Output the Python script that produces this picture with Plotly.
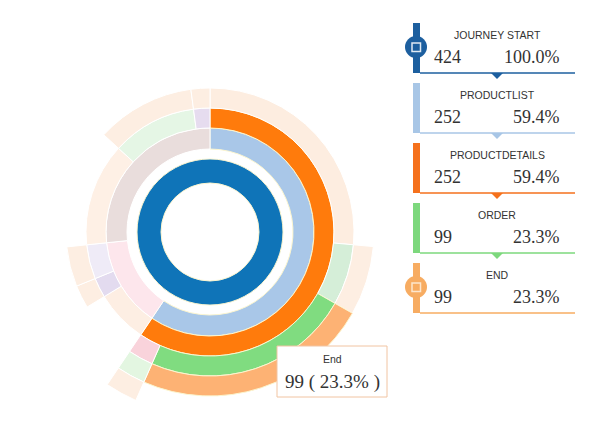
import plotly.graph_objects as go

# journey tree: every page visit is a node, children listed clockwise
node_ids = [
    "js",
    "js/pl", "js/cart", "js/home",
    "js/pl/pd",
    "js/cart/end", "js/cart/search", "js/cart/account",
    "js/home/end", "js/home/order", "js/home/search",
    "js/pl/pd/end", "js/pl/pd/wish", "js/pl/pd/order", "js/pl/pd/cart",
    "js/cart/search/end", "js/cart/account/end",
    "js/home/order/end", "js/home/search/end",
    "js/pl/pd/wish/end", "js/pl/pd/order/end", "js/pl/pd/cart/order",
    "js/pl/pd/cart/order/end",
]
node_labels = [
    "Journey Start",
    "ProductList", "Cart", "Home",
    "ProductDetails",
    "End", "Search", "Account",
    "End", "Order", "Search",
    "End", "Wishlist", "Order", "Cart",
    "End", "End",
    "End", "End",
    "End", "End", "Order",
    "End",
]
node_parents = [
    "",
    "js", "js", "js",
    "js/pl",
    "js/cart", "js/cart", "js/cart",
    "js/home", "js/home", "js/home",
    "js/pl/pd", "js/pl/pd", "js/pl/pd", "js/pl/pd",
    "js/cart/search", "js/cart/account",
    "js/home/order", "js/home/search",
    "js/pl/pd/wish", "js/pl/pd/order", "js/pl/pd/cart",
    "js/pl/pd/cart/order",
]
node_values = [
    424,
    252, 59, 113,
    252,
    29, 11, 19,
    57, 47, 9,
    112, 29, 99, 12,
    11, 19,
    47, 9,
    29, 99, 12,
    12,
]

# selected path shown in the side panel
path_ids = ["js", "js/pl", "js/pl/pd", "js/pl/pd/order", "js/pl/pd/order/end"]
selected = "js/pl/pd/order/end"

# colours: full colour on the selected path, faded elsewhere
seg_colors = {
    "js": "#0f74b8",
    "js/pl": "#a9c7e8",
    "js/cart": "#fde6ec",
    "js/home": "#e9dddc",
    "js/pl/pd": "#ff7b0c",
    "js/cart/end": "#fdeee3",
    "js/cart/search": "#e3dbef",
    "js/cart/account": "#efebf7",
    "js/home/end": "#fef0e5",
    "js/home/order": "#e5f6e5",
    "js/home/search": "#e6dcef",
    "js/pl/pd/end": "#fdede0",
    "js/pl/pd/wish": "#d5eed8",
    "js/pl/pd/order": "#80dc80",
    "js/pl/pd/cart": "#f9d3db",
    "js/pl/pd/order/end": "#fdb274",
    "js/pl/pd/cart/order": "#e3f6e1",
}
faded_end = "#fdeee2"
panel_colors = ["#1d5f9f", "#a8c6e6", "#f5711c", "#7dd87d", "#f7ac62"]

# ring radii in px (inner, outer)
ring_in = [49, 83, 104, 124, 144, 164]
ring_out = [73, 104, 124, 144, 164, 184]

W, H = 600, 430
cx, cy = 210, 232
R = ring_out[-1]


def px(x):
    return x / W


def py(y):
    return 1 - y / H


# lay out the tree: angle start / span for each node
total = node_values[0]
idx = {n: i for i, n in enumerate(node_ids)}
start = {}
depth = {}
cursor = {}
for i, n in enumerate(node_ids):
    p = node_parents[i]
    if p == "":
        start[n] = 0.0
        depth[n] = 0
    else:
        start[n] = cursor[p]
        depth[n] = depth[p] + 1
    cursor[p] = start[n] + node_values[i] / total * 360
    cursor[n] = start[n]

thetas, widths, bases, rs, colors, lines = [], [], [], [], [], []
for i, n in enumerate(node_ids):
    span = node_values[i] / total * 360
    d = depth[n]
    thetas.append(start[n] + span / 2)
    widths.append(span)
    bases.append(ring_in[d])
    rs.append(ring_out[d] - ring_in[d])
    colors.append(seg_colors.get(n, faded_end))
    lines.append("#fbf5cf" if n in path_ids else "#ffffff")

fig = go.Figure()
fig.add_trace(go.Barpolar(
    theta=thetas, width=widths, base=bases, r=rs,
    marker=dict(color=colors, line=dict(color=lines, width=1)),
    hoverinfo="skip",
))

fig.update_layout(
    width=W, height=H,
    margin=dict(l=0, r=0, t=0, b=0),
    paper_bgcolor="white",
    showlegend=False,
    polar=dict(
        domain=dict(x=[px(cx - R), px(cx + R)], y=[py(cy + R), py(cy - R)]),
        bgcolor="white",
        barmode="overlay",
        radialaxis=dict(visible=False, range=[0, R]),
        angularaxis=dict(visible=False, rotation=90, direction="clockwise"),
    ),
)

shapes = []
annotations = []


def label(x, y, text, family, size, xanchor="center"):
    annotations.append(dict(x=px(x), y=py(y), xref="paper", yref="paper",
                            text=text, showarrow=False,
                            xanchor=xanchor, yanchor="middle",
                            font=dict(family=family, size=size, color="#333")))


# side panel cards
for k, n in enumerate(path_ids):
    i = idx[n]
    col = panel_colors[k]
    top = 23 + 60 * k
    bot = top + 50
    shapes.append(dict(type="rect", xref="paper", yref="paper",
                       x0=px(413), x1=px(420), y0=py(bot), y1=py(top),
                       fillcolor=col, line=dict(width=0)))
    shapes.append(dict(type="line", xref="paper", yref="paper",
                       x0=px(420), x1=px(575), y0=py(bot), y1=py(bot),
                       line=dict(color=col, width=1.5)))
    if k < len(path_ids) - 1:
        shapes.append(dict(type="path", xref="paper", yref="paper",
                           path=f"M {px(491)} {py(bot)} L {px(503)} {py(bot)} "
                                f"L {px(497)} {py(bot + 6)} Z",
                           fillcolor=col, line=dict(width=0)))
    pct = node_values[i] / total * 100
    label(497, top + 12, node_labels[i].upper(), "Liberation Sans", 10.5)
    label(432, top + 34, str(node_values[i]), "Liberation Serif", 18, "left")
    label(562, top + 34, f"{pct:.1f}%", "Liberation Serif", 18, "right")

# start / end markers on the panel
for k, ring_col, sq_line in [(0, panel_colors[0], "#dfe9f3"), (4, panel_colors[4], "#fde6cd")]:
    yc = 47 + 60 * k
    shapes.append(dict(type="circle", xref="paper", yref="paper",
                       x0=px(405), x1=px(427), y0=py(yc + 11), y1=py(yc - 11),
                       fillcolor=ring_col, line=dict(width=0)))
    shapes.append(dict(type="rect", xref="paper", yref="paper",
                       x0=px(412), x1=px(420.5), y0=py(yc + 4.5), y1=py(yc - 4),
                       fillcolor=ring_col, line=dict(color=sq_line, width=1.5)))

# tooltip for the selected node
sel = idx[selected]
shapes.append(dict(type="rect", xref="paper", yref="paper",
                   x0=px(277), x1=px(387), y0=py(397), y1=py(346),
                   fillcolor="white", line=dict(color="#f1c4a2", width=1)))
label(332, 359, node_labels[sel], "Liberation Sans", 10.5)
label(332, 382, f"{node_values[sel]} ( {node_values[sel] / total * 100:.1f}% )",
      "Liberation Serif", 19)

fig.update_layout(shapes=shapes, annotations=annotations)

# drop the default page margin so the figure sits at the window origin
fig.write_html("out.html", config={"displayModeBar": False},
               post_script="document.body.style.margin = '0';")
